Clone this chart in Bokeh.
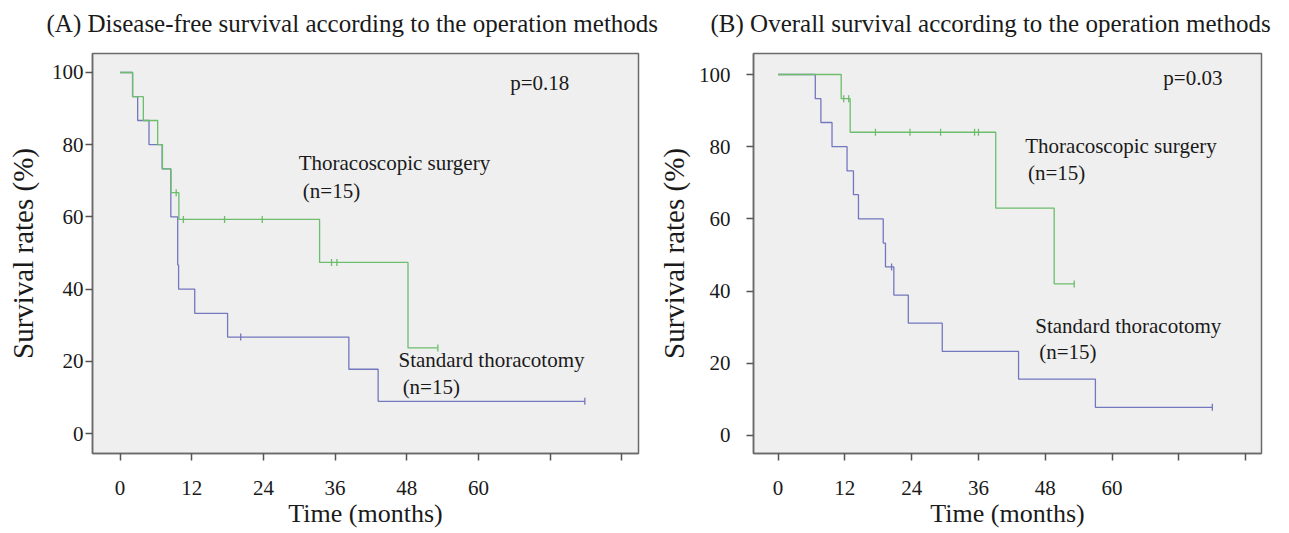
import numpy as np
from bokeh.plotting import figure
from bokeh.models import Range1d, FixedTicker, Label
from bokeh.layouts import column, row
from bokeh.embed import file_html
from bokeh.resources import INLINE

# ---------------- data ----------------
month_ticks = [0, 12, 24, 36, 48, 60, 72, 84]
month_labels = ["0", "12", "24", "36", "48", "60", "", ""]
rate_ticks = [0, 20, 40, 60, 80, 100]

titles = ["(A) Disease-free survival according to the operation methods",
          "(B) Overall survival according to the operation methods"]
x_title = "Time (months)"
y_title = "Survival rates (%)"
p_values = ["p=0.18", "p=0.03"]
group_names = ["Thoracoscopic surgery", "Standard thoracotomy"]
group_n = ["(n=15)", "(n=15)"]

# (A) disease-free survival
dfs_thor_t = [0, 2.1, 3.9, 6.3, 7.1, 8.5, 9.85, 33.4, 48.2, 53.2]
dfs_thor_s = [100, 93.3, 86.7, 80.0, 73.3, 66.7, 59.3, 47.4, 23.7, 23.7]
dfs_thor_ct = [9.4, 10.6, 17.5, 23.8, 35.4, 36.3, 53.2]
dfs_thor_cs = [66.7, 59.3, 59.3, 59.3, 47.4, 47.4, 23.7]

dfs_std_t = [0, 2.1, 2.95, 4.85, 7.05, 8.5, 9.65, 9.8, 12.5, 18.0, 38.3, 43.2, 77.8]
dfs_std_s = [100, 93.3, 86.7, 80.0, 73.3, 60.0, 46.7, 40.0, 33.3, 26.7, 17.8, 8.9, 8.9]
dfs_std_ct = [20.2, 77.8]
dfs_std_cs = [26.7, 8.9]

# (B) overall survival
os_thor_t = [0, 11.35, 12.96, 39.1, 49.6, 53.2]
os_thor_s = [100, 93.3, 84.0, 63.0, 42.0, 42.0]
os_thor_ct = [11.8, 12.7, 17.5, 23.7, 29.2, 35.3, 36.0, 53.2]
os_thor_cs = [93.3, 93.3, 84.0, 84.0, 84.0, 84.0, 84.0, 42.0]

os_std_t = [0, 6.7, 7.7, 9.7, 12.4, 13.55, 14.45, 18.9, 19.3, 20.8, 23.4, 29.5, 43.2, 57.0, 78.0]
os_std_s = [100, 93.3, 86.7, 80.0, 73.3, 66.7, 60.0, 53.3, 46.7, 38.9, 31.1, 23.3, 15.6, 7.8, 7.8]
os_std_ct = [20.4, 78.0]
os_std_cs = [46.7, 7.8]

# ---------------- style ----------------
SERIF = "Liberation Serif"
GREEN = "#6cbd6c"
BLUE = "#7377bd"
TXT = "#1a1a1a"


def panel(width, left, right, xr, yr, ylab_std, ytitle_std, curves, ann):
    p = figure(width=width, height=485, x_range=Range1d(*xr), y_range=Range1d(*yr),
               toolbar_location=None, output_backend="svg",
               min_border_left=left, min_border_right=right,
               min_border_top=5, min_border_bottom=80,
               x_axis_label=x_title, y_axis_label=y_title)
    p.background_fill_color = "#efefef"
    p.border_fill_color = "white"
    p.outline_line_color = "#6a6a6a"
    p.outline_line_width = 1.5
    p.grid.visible = False

    p.xaxis.ticker = FixedTicker(ticks=month_ticks)
    p.xaxis.major_label_overrides = {t: l for t, l in zip(month_ticks, month_labels)}
    p.yaxis.ticker = FixedTicker(ticks=rate_ticks)
    for ax in (p.xaxis, p.yaxis):
        ax.axis_line_color = "#6a6a6a"
        ax.axis_line_width = 1.5
        ax.major_tick_in = 0
        ax.major_tick_out = 7
        ax.major_tick_line_color = "#555555"
        ax.major_tick_line_width = 1.5
        ax.minor_tick_line_color = None
        ax.major_label_text_font = SERIF
        ax.major_label_text_font_size = "21px"
        ax.major_label_text_color = TXT
        ax.axis_label_text_font = SERIF
        ax.axis_label_text_font_style = "normal"
        ax.axis_label_text_color = TXT
    p.xaxis.major_label_standoff = 20
    p.xaxis.axis_label_standoff = 1
    p.xaxis.axis_label_text_font_size = "26px"
    p.yaxis.major_label_standoff = ylab_std
    p.yaxis.axis_label_standoff = ytitle_std
    p.yaxis.axis_label_text_font_size = "29px"

    for (t, s, ct, cs, col) in curves:
        p.step(t, s, mode="after", line_color=col, line_width=1.3)
        p.scatter(ct, cs, marker="dash", angle=np.pi / 2, size=7,
                  line_color=col, line_width=1.3)

    for (x, y, txt) in ann:
        p.add_layout(Label(x=x, y=y, text=txt, text_font=SERIF,
                           text_font_size="21px", text_color=TXT,
                           text_align="left", text_baseline="middle"))
    return p


pa = panel(654, 92, 16, (-4.61, 86.78), (-5.54, 105.26), 2, 10,
           [(dfs_std_t, dfs_std_s, dfs_std_ct, dfs_std_cs, BLUE),
            (dfs_thor_t, dfs_thor_s, dfs_thor_ct, dfs_thor_cs, GREEN)],
           [(65.3, 97.2, p_values[0]),
            (29.9, 75.0, group_names[0]),
            (30.6, 67.2, group_n[0]),
            (46.6, 20.3, group_names[1]),
            (47.3, 12.8, group_n[1])])

pb = panel(635, 95, 28, (-4.40, 86.83), (-4.99, 105.82), 16, 6,
           [(os_std_t, os_std_s, os_std_ct, os_std_cs, BLUE),
            (os_thor_t, os_thor_s, os_thor_ct, os_thor_cs, GREEN)],
           [(69.2, 98.9, p_values[1]),
            (44.4, 80.3, group_names[0]),
            (44.9, 72.6, group_n[0]),
            (46.2, 30.2, group_names[1]),
            (46.9, 23.0, group_n[1])])

# title strip above both panels
ts = figure(width=1289, height=48, x_range=Range1d(0, 1289), y_range=Range1d(48, 0),
            toolbar_location=None, output_backend="svg", min_border=0,
            x_axis_type=None, y_axis_type=None)
ts.outline_line_color = None
ts.background_fill_color = None
ts.border_fill_color = "white"
ts.grid.visible = False
for x, txt in zip([46, 710], titles):
    ts.add_layout(Label(x=x, y=23, text=txt, text_font=SERIF, text_font_size="25px",
                        text_color=TXT, text_align="left", text_baseline="middle"))

layout = column(ts, row(pa, pb))
open("out.html", "w").write(file_html(layout, INLINE))
